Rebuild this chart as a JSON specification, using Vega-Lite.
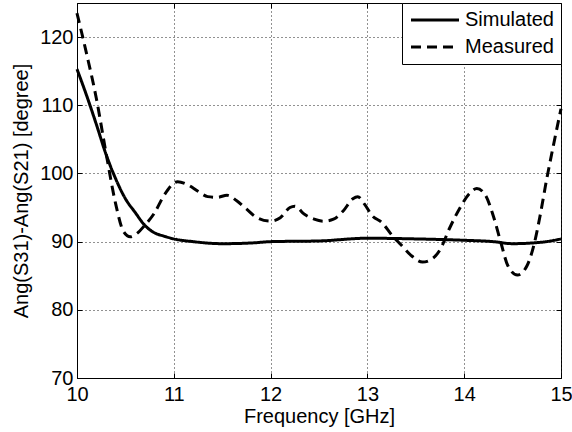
{
  "$schema": "https://vega.github.io/schema/vega-lite/v6.json",
  "width": 484,
  "height": 375,
  "autosize": {"type": "none"},
  "padding": {"left": 77, "top": 3, "right": 11, "bottom": 54},
  "background": "white",
  "config": {
    "font": "Liberation Sans",
    "view": {"stroke": "black", "strokeWidth": 1},
    "axis": {
      "domainColor": "black",
      "tickColor": "black",
      "labelColor": "black",
      "titleColor": "black",
      "labelFontSize": 20,
      "titleFontSize": 20,
      "titleFontWeight": "normal",
      "labelFlush": false,
      "gridColor": "#222",
      "gridDash": [1, 3],
      "gridOpacity": 1,
      "gridWidth": 1,
      "tickSize": -5
    }
  },
  "data": {
    "values": [
      {"f": 10.0, "v": 115.3, "s": "Simulated"},
      {"f": 10.1, "v": 111.4, "s": "Simulated"},
      {"f": 10.2, "v": 107.2, "s": "Simulated"},
      {"f": 10.3, "v": 102.8, "s": "Simulated"},
      {"f": 10.4, "v": 99.2, "s": "Simulated"},
      {"f": 10.5, "v": 96.3, "s": "Simulated"},
      {"f": 10.6, "v": 94.3, "s": "Simulated"},
      {"f": 10.7, "v": 92.4, "s": "Simulated"},
      {"f": 10.8, "v": 91.3, "s": "Simulated"},
      {"f": 10.9, "v": 90.8, "s": "Simulated"},
      {"f": 11.0, "v": 90.4, "s": "Simulated"},
      {"f": 11.2, "v": 90.0, "s": "Simulated"},
      {"f": 11.5, "v": 89.7, "s": "Simulated"},
      {"f": 11.8, "v": 89.8, "s": "Simulated"},
      {"f": 12.0, "v": 90.0, "s": "Simulated"},
      {"f": 12.5, "v": 90.1, "s": "Simulated"},
      {"f": 13.0, "v": 90.5, "s": "Simulated"},
      {"f": 13.5, "v": 90.4, "s": "Simulated"},
      {"f": 14.0, "v": 90.2, "s": "Simulated"},
      {"f": 14.3, "v": 90.0, "s": "Simulated"},
      {"f": 14.5, "v": 89.7, "s": "Simulated"},
      {"f": 14.7, "v": 89.8, "s": "Simulated"},
      {"f": 14.85, "v": 90.0, "s": "Simulated"},
      {"f": 15.0, "v": 90.4, "s": "Simulated"},
      {"f": 10.0, "v": 123.5, "s": "Measured"},
      {"f": 10.1, "v": 117.5, "s": "Measured"},
      {"f": 10.2, "v": 111.0, "s": "Measured"},
      {"f": 10.3, "v": 103.0, "s": "Measured"},
      {"f": 10.4, "v": 95.5, "s": "Measured"},
      {"f": 10.48, "v": 91.5, "s": "Measured"},
      {"f": 10.55, "v": 90.7, "s": "Measured"},
      {"f": 10.62, "v": 91.2, "s": "Measured"},
      {"f": 10.7, "v": 92.4, "s": "Measured"},
      {"f": 10.8, "v": 94.2, "s": "Measured"},
      {"f": 10.9, "v": 96.8, "s": "Measured"},
      {"f": 11.04, "v": 98.8, "s": "Measured"},
      {"f": 11.15, "v": 98.3, "s": "Measured"},
      {"f": 11.25, "v": 97.4, "s": "Measured"},
      {"f": 11.35, "v": 96.6, "s": "Measured"},
      {"f": 11.45, "v": 96.5, "s": "Measured"},
      {"f": 11.55, "v": 96.8, "s": "Measured"},
      {"f": 11.65, "v": 96.0, "s": "Measured"},
      {"f": 11.75, "v": 94.8, "s": "Measured"},
      {"f": 11.85, "v": 93.6, "s": "Measured"},
      {"f": 12.0, "v": 93.0, "s": "Measured"},
      {"f": 12.1, "v": 93.5, "s": "Measured"},
      {"f": 12.2, "v": 95.0, "s": "Measured"},
      {"f": 12.25, "v": 95.2, "s": "Measured"},
      {"f": 12.35, "v": 94.0, "s": "Measured"},
      {"f": 12.45, "v": 93.3, "s": "Measured"},
      {"f": 12.55, "v": 93.0, "s": "Measured"},
      {"f": 12.65, "v": 93.3, "s": "Measured"},
      {"f": 12.75, "v": 94.5, "s": "Measured"},
      {"f": 12.85, "v": 96.3, "s": "Measured"},
      {"f": 12.9, "v": 96.6, "s": "Measured"},
      {"f": 12.97, "v": 95.5, "s": "Measured"},
      {"f": 13.05, "v": 93.8, "s": "Measured"},
      {"f": 13.15, "v": 92.8, "s": "Measured"},
      {"f": 13.25, "v": 91.0, "s": "Measured"},
      {"f": 13.35, "v": 89.5, "s": "Measured"},
      {"f": 13.45, "v": 88.0, "s": "Measured"},
      {"f": 13.57, "v": 87.0, "s": "Measured"},
      {"f": 13.68, "v": 87.6, "s": "Measured"},
      {"f": 13.75, "v": 88.8, "s": "Measured"},
      {"f": 13.85, "v": 92.0, "s": "Measured"},
      {"f": 13.95, "v": 94.8, "s": "Measured"},
      {"f": 14.05, "v": 97.0, "s": "Measured"},
      {"f": 14.13, "v": 97.8, "s": "Measured"},
      {"f": 14.22, "v": 96.8, "s": "Measured"},
      {"f": 14.3, "v": 93.8, "s": "Measured"},
      {"f": 14.38, "v": 89.8, "s": "Measured"},
      {"f": 14.45, "v": 86.5, "s": "Measured"},
      {"f": 14.55, "v": 85.1, "s": "Measured"},
      {"f": 14.65, "v": 86.5, "s": "Measured"},
      {"f": 14.72, "v": 89.5, "s": "Measured"},
      {"f": 14.78, "v": 93.5, "s": "Measured"},
      {"f": 14.85, "v": 99.0, "s": "Measured"},
      {"f": 14.92, "v": 104.0, "s": "Measured"},
      {"f": 15.0, "v": 109.5, "s": "Measured"}
    ]
  },
  "layer": [
    {
      "mark": {"type": "line", "strokeWidth": 3, "color": "black", "interpolate": "monotone"},
      "encoding": {
        "x": {
          "field": "f", "type": "quantitative",
          "scale": {"domain": [10, 15], "nice": false},
          "axis": {"title": "Frequency [GHz]", "values": [10, 11, 12, 13, 14, 15], "format": "d", "labelPadding": 11, "titlePadding": 2}
        },
        "y": {
          "field": "v", "type": "quantitative",
          "scale": {"domain": [70, 125], "nice": false},
          "axis": {"title": "Ang(S31)-Ang(S21) [degree]", "values": [70, 80, 90, 100, 110, 120], "format": "d", "labelPadding": 9, "titlePadding": 8}
        },
        "strokeDash": {
          "field": "s", "type": "nominal",
          "scale": {"domain": ["Simulated", "Measured"], "range": [[1, 0], [10, 6]]},
          "legend": {
            "title": null, "orient": "top-right", "offset": 0,
            "strokeColor": "black", "fillColor": "white", "padding": 7,
            "labelFontSize": 20, "labelColor": "black",
            "symbolType": "M-1,0H5", "symbolStrokeWidth": 3, "symbolSize": 256,
            "symbolStrokeColor": "black", "symbolFillColor": "transparent",
            "labelOffset": 36, "rowPadding": 7
          }
        }
      }
    },
    {
      "mark": {"type": "line", "opacity": 0},
      "encoding": {
        "x": {
          "field": "f", "type": "quantitative",
          "axis": {"orient": "top", "values": [10, 11, 12, 13, 14, 15], "labels": false, "title": null, "grid": false, "domain": false}
        },
        "y": {
          "field": "v", "type": "quantitative",
          "axis": {"orient": "right", "values": [70, 80, 90, 100, 110, 120], "labels": false, "title": null, "grid": false, "domain": false}
        }
      }
    }
  ],
  "resolve": {"axis": {"x": "independent", "y": "independent"}}
}
